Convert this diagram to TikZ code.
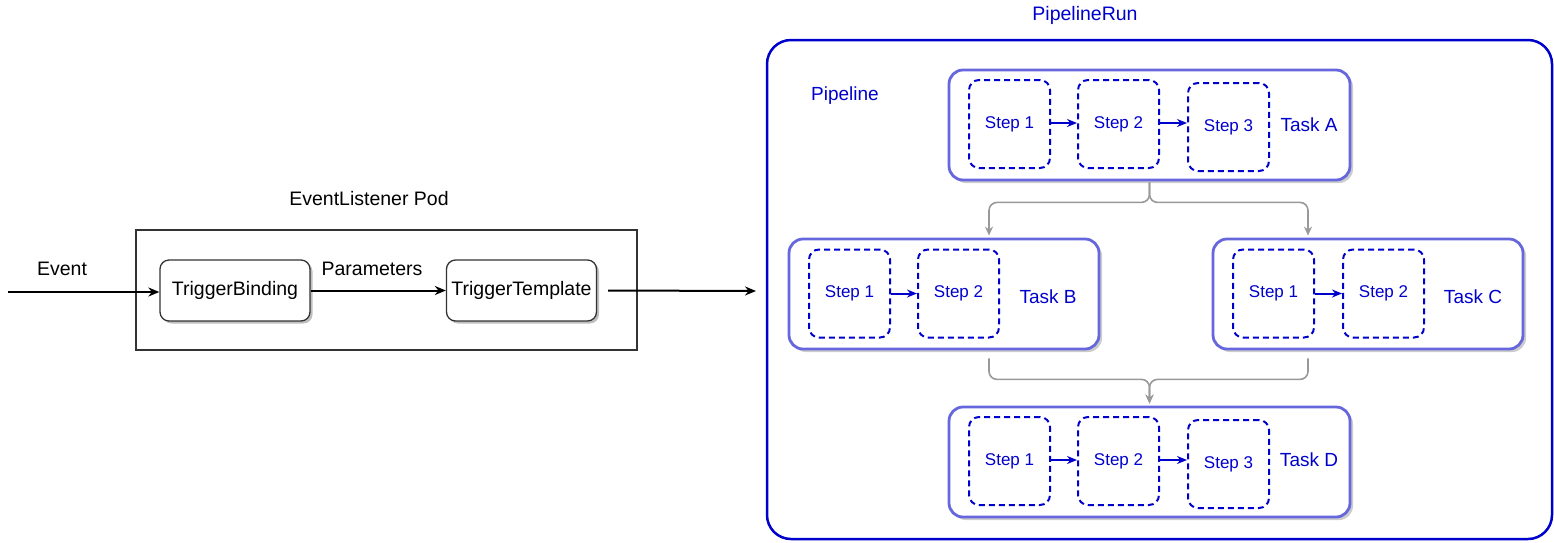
\documentclass[tikz,border=0pt]{standalone}
\usepackage{fontspec}
\setmainfont{Liberation Sans}
\usetikzlibrary{arrows.meta,shadows,positioning}
\definecolor{tblue}{RGB}{0,0,204}
\definecolor{taskc}{RGB}{102,102,221}
\definecolor{lgray}{RGB}{153,153,153}
\definecolor{dgray}{RGB}{51,51,51}
\begin{document}
\begin{tikzpicture}[x=1pt,y=-1pt,
  txt/.style={font=\fontsize{19.5}{23}\selectfont, inner sep=0pt},
  btxt/.style={font=\fontsize{19}{23}\selectfont, inner sep=0pt, text=tblue},
  outerbox/.style={draw=dgray, line width=2.2pt, minimum width=501pt, minimum height=120pt},
  trig/.style={draw=dgray, line width=1.3pt, rounded corners=9pt, fill=white,
    minimum width=150pt, minimum height=61pt, inner sep=0pt,
    font=\fontsize{19.5}{23}\selectfont,
    drop shadow={shadow xshift=2.5pt, shadow yshift=-2.5pt, opacity=0.25, fill=black}},
  runbox/.style={draw=tblue, line width=2.5pt, rounded corners=24pt, minimum width=785pt, minimum height=499pt},
  taskbox/.style={draw=taskc, line width=2.8pt, rounded corners=14pt, fill=white,
    minimum height=110pt,
    drop shadow={shadow xshift=3pt, shadow yshift=-3pt, opacity=0.2, fill=black}},
  stepbox/.style={draw=tblue, line width=2pt, dash pattern=on 6pt off 4pt, rounded corners=10pt,
    minimum width=81pt, minimum height=88pt, inner sep=0pt, text=tblue, font=\fontsize{17}{20}\selectfont},
  blarrow/.style={-{Stealth[length=11pt,width=9pt]}, line width=2pt, black},
  sarrow/.style={-{Stealth[length=10pt,width=8pt]}, line width=2pt, tblue},
  garrow/.style={-{Stealth[length=9pt,width=8pt]}, line width=1.6pt, lgray, rounded corners=8pt}
]
\useasboundingbox (0,0) rectangle (1554,542);

% Left part
\node[txt] (elp) at (369,199) {EventListener Pod};
\node[outerbox] (outer) at (386.5,290) {};
\node[trig] (tb) at (235,290.5) {TriggerBinding};
\node[trig] (tt) at (521.5,290.5) {TriggerTemplate};
\node[txt] (ev) at (62,269) {Event};
\node[txt] (par) at (372,269) {Parameters};
\coordinate (in) at (8,292);
\coordinate (outend) at (756,291);
\draw[blarrow] (in) -- (in -| tb.west);
\draw[blarrow] (tb.east) -- (tt.west);
\draw[blarrow] ([xshift=11pt]tt.east) -- (outend);

% PipelineRun
\node[txt, text=tblue] (prt) at (1085,15) {PipelineRun};
\node[runbox] (pr) at (1159.5,289.5) {};
\node[btxt] (pl) at (845,96) {Pipeline};

% Tasks
\node[taskbox, minimum width=401pt] (ta) at (1149.5,125) {};
\node[taskbox, minimum width=310pt] (tbb) at (944,294) {};
\node[taskbox, minimum width=310pt] (tc) at (1368,294) {};
\node[taskbox, minimum width=401pt] (td) at (1149.5,462) {};

% Task A steps
\node[stepbox] (a1) at (1009.5,124) {Step 1};
\node[stepbox] (a2) at (1118.5,124) {Step 2};
\node[stepbox] (a3) at (1228.5,127) {Step 3};
\node[btxt] (la) at (1309,125) {Task A};
\draw[sarrow] ([yshift=1pt]a1.east) -- ([yshift=1pt]a2.west);
\draw[sarrow] ([yshift=1pt]a2.east) -- ([yshift=1pt]a2.east -| a3.west);

% Task B steps
\node[stepbox] (b1) at (849.5,293.5) {Step 1};
\node[stepbox] (b2) at (958.5,293.5) {Step 2};
\node[btxt] (lb) at (1048,297) {Task B};
\draw[sarrow] (b1.east) -- (b2.west);

% Task C steps
\node[stepbox] (c1) at (1273.5,293.5) {Step 1};
\node[stepbox] (c2) at (1383.5,293.5) {Step 2};
\node[btxt] (lc) at (1473,297) {Task C};
\draw[sarrow] (c1.east) -- (c2.west);

% Task D steps
\node[stepbox] (d1) at (1009.5,461) {Step 1};
\node[stepbox] (d2) at (1118.5,461) {Step 2};
\node[stepbox] (d3) at (1228.5,464) {Step 3};
\node[btxt] (ld) at (1309,460) {Task D};
\draw[sarrow] ([yshift=1pt]d1.east) -- ([yshift=1pt]d2.west);
\draw[sarrow] ([yshift=1pt]d2.east) -- ([yshift=1pt]d2.east -| d3.west);

% Gray connectors
\draw[garrow] ([yshift=-1pt]ta.south) -- ++(0,20) -| ([xshift=45pt,yshift=2pt]tbb.north);
\draw[garrow] ([yshift=-1pt]ta.south) -- ++(0,20) -| ([xshift=-60pt,yshift=2pt]tc.north);
\draw[garrow] ([xshift=45pt,yshift=-8pt]tbb.south) -- ++(0,21) -| ([yshift=2pt]td.north);
\draw[garrow] ([xshift=-60pt,yshift=-8pt]tc.south) -- ++(0,21) -| ([yshift=2pt]td.north);
\end{tikzpicture}
\end{document}
